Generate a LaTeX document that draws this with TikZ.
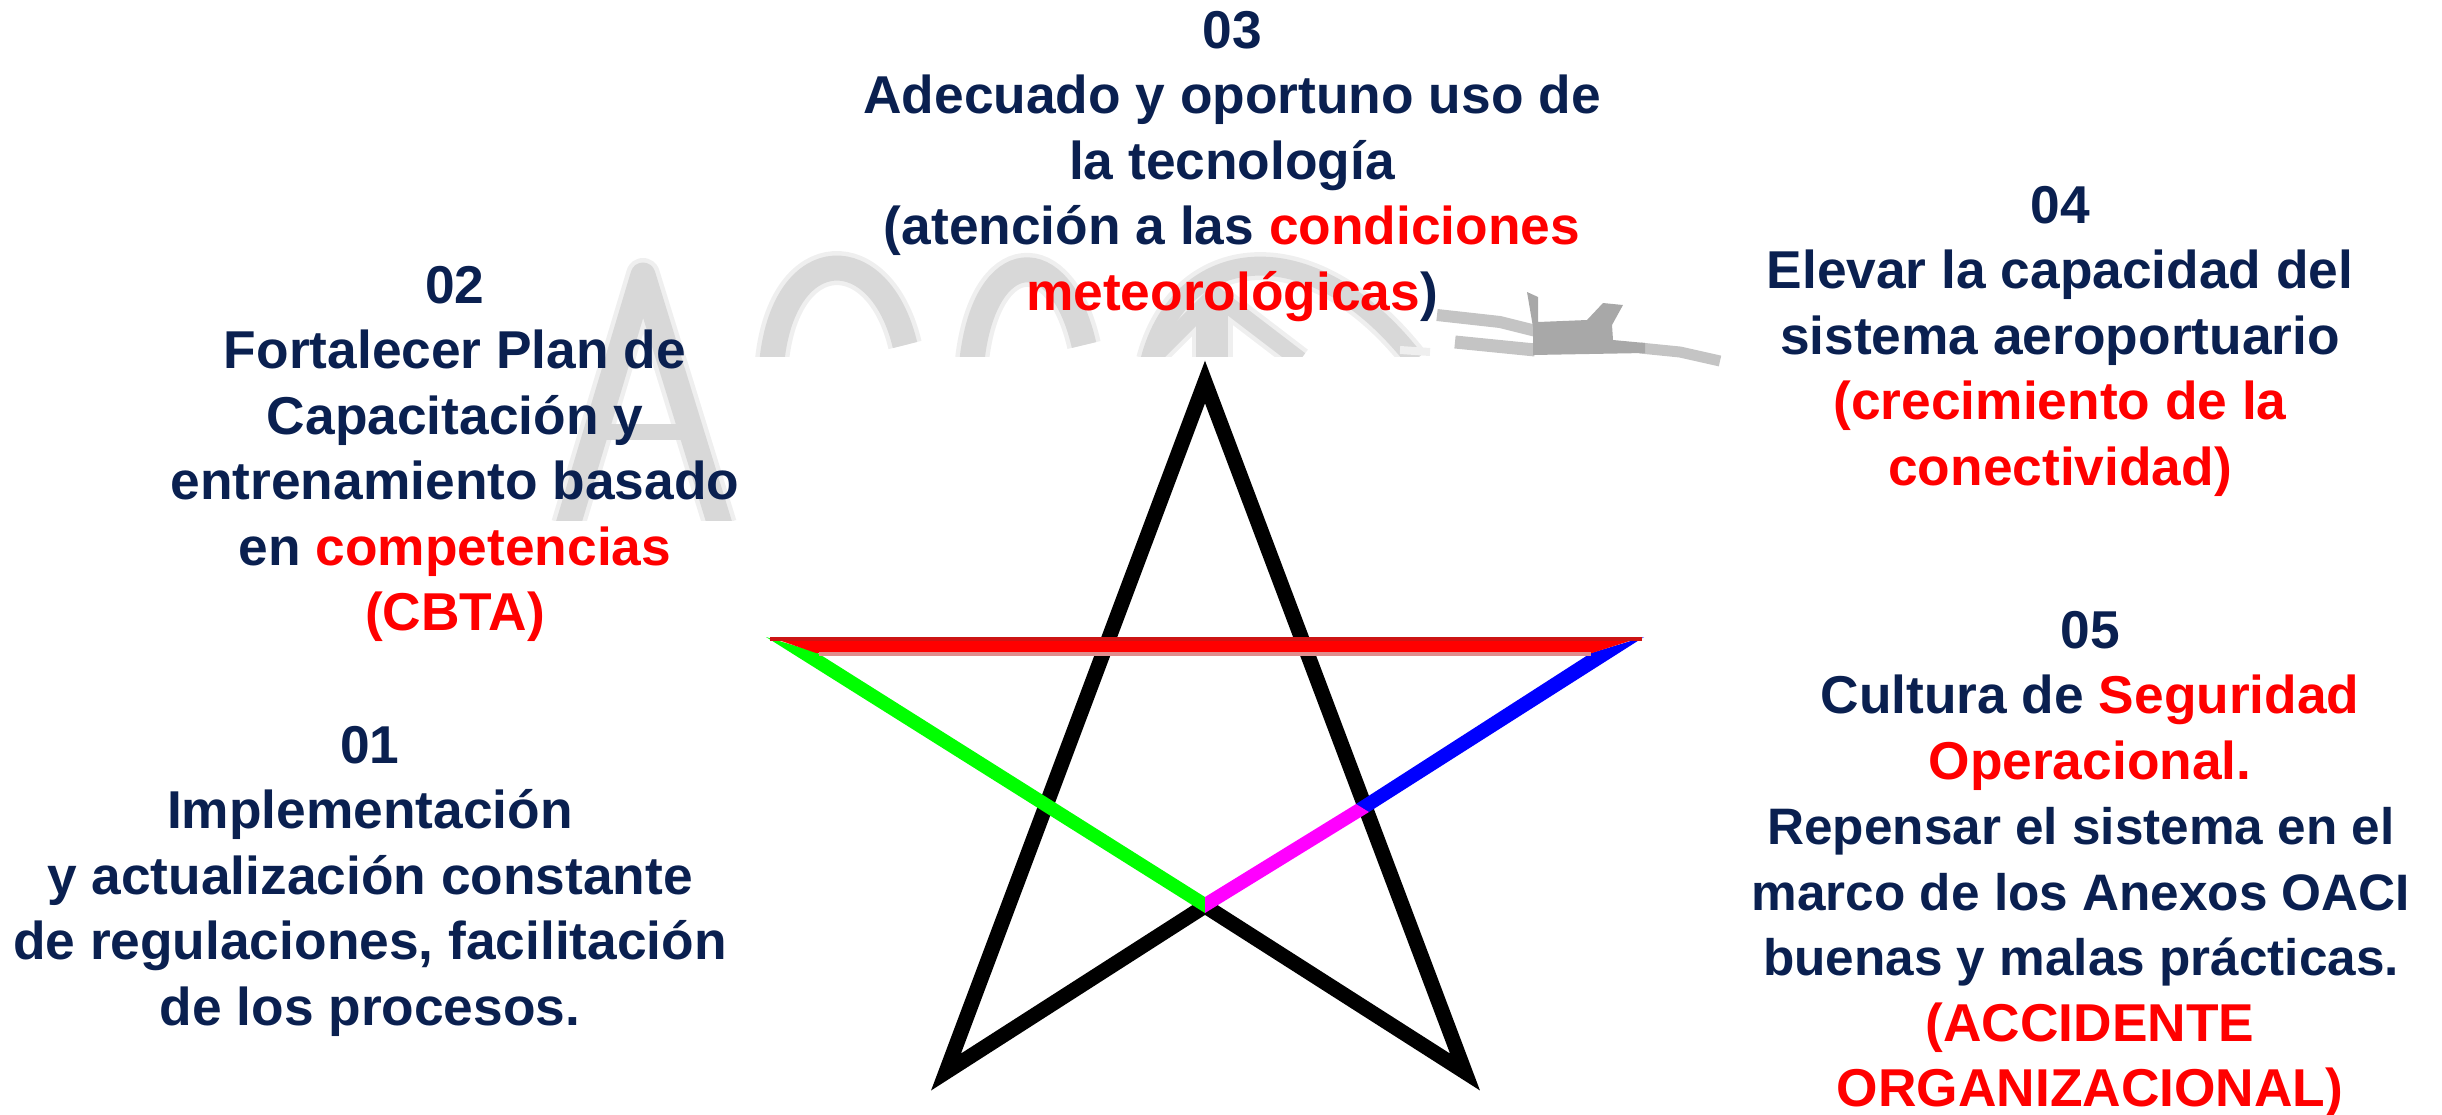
\documentclass[tikz,border=0pt]{standalone}
\usepackage{fontspec}
\setmainfont{Liberation Sans}
\definecolor{navy}{HTML}{0A2050}
\definecolor{wmlight}{HTML}{D8D8D8}
\definecolor{wmhalo}{HTML}{EFEFEF}
\definecolor{wmdark}{HTML}{A8A8A8}
\definecolor{wmmid}{HTML}{C4C4C4}
\definecolor{pure red}{HTML}{FF0000}
\definecolor{pure green}{HTML}{00FF00}
\definecolor{pure blue}{HTML}{0000FF}
\definecolor{pure magenta}{HTML}{FF00FF}
\definecolor{dark strip}{HTML}{CC1414}
\definecolor{pale strip}{HTML}{E08C8C}
\tikzset{
  label/.style={font=\fontsize{53.3}{65.5}\selectfont\bfseries, text=navy, align=center, inner sep=0pt, anchor=north},
  ray/.style={draw=black, line width=15pt, line join=miter, miter limit=40},
  wmh/.style={draw=wmhalo, line width=34pt, line cap=butt, line join=round},
  wm/.style={draw=wmlight, line width=25pt, line cap=butt, line join=round},
}
\newcommand{\hl}[1]{\textcolor{pure red}{#1}}
\newcommand{\tr}{\rule{18pt}{0pt}}
\newcommand{\sml}{\fontsize{51.3}{65.5}\selectfont}
\begin{document}
\begin{tikzpicture}[x=1pt,y=-1pt]
\useasboundingbox (0,0) rectangle (2442,1114);
% watermark
\begin{scope}
\clip (540,240) rectangle (760,520);
\draw[wmh] (568,525) -- (643,275) -- (720,525);
\draw[wm] (568,525) -- (643,275) -- (720,525);
\draw[wmlight,line width=16pt] (600,432) -- (695,432);
\end{scope}
\begin{scope}
\clip (750,240) rectangle (1440,356);
\foreach \s/\w in {wmhalo/9,wmlight/0}{
\draw[\s,line width=25pt+\w pt] (772,360) .. controls (785,240) and (880,240) .. (905,345);
\draw[\s,line width=25pt+\w pt] (972,360) .. controls (985,245) and (1060,240) .. (1084,345);
\draw[\s,line width=19pt+\w pt] (1150,360) .. controls (1180,245) and (1310,225) .. (1415,360);
\draw[\s,line width=17pt+\w pt] (1150,360) -- (1215,295) -- (1300,360);
\draw[\s,line width=32pt+\w pt] (1212,310) -- (1212,360);
}
\end{scope}
% plane
\draw[wmmid,line width=12pt] (1437,315) -- (1500,322) -- (1540,332);
\draw[wmmid,line width=13pt] (1455,342) -- (1535,350);
\draw[wmhalo,line width=8pt] (1400,350) -- (1430,352);
\draw[wmmid,line width=11pt] (1640,348) -- (1680,352) -- (1720,361);
\fill[wmdark] (1527,292) -- (1538,297) -- (1538,322) -- (1587,320) -- (1603,303) -- (1623,305) -- (1612,325) -- (1613,340) -- (1645,343) -- (1645,353) -- (1533,355) -- (1533,327) -- cycle;
% star
\coordinate (T) at (1205,382);
\coordinate (BL) at (946,1072);
\coordinate (BR) at (1465,1072);
\coordinate (C) at (1205,906);
\draw[ray] (BL) -- (T) -- (BR) -- (C) -- cycle;
\fill[pure green] (766,637) -- (816,652) -- (1205,897) -- (1205,913) -- cycle;
\fill[pure blue] (1644,637) -- (1591,653) -- (1356,804) -- (1369,812) -- cycle;
\fill[pure magenta] (1356,804) -- (1205,897) -- (1205,913) -- (1369,812) -- cycle;
\fill[pure red] (770,637) -- (1642,637) -- (1592,653) -- (816,653) -- cycle;
\fill[dark strip] (770,637) rectangle (1642,641);
\fill[pale strip] (819,652) rectangle (1591,656);
% labels
\node[label] (n3) at (1232,11) {03\\Adecuado y oportuno uso de\\la tecnología\\(atención a las \hl{condiciones}\\\hl{meteorológicas})};
\node[label] (n4) at (2060,186) {04\\Elevar la capacidad del\\sistema aeroportuario\\\hl{(crecimiento de la}\\\hl{conectividad)}};
\node[label] (n2) at (455,266) {02\\Fortalecer Plan de\\Capacitación y\\entrenamiento basado\\en \hl{competencias}\\\hl{(CBTA)}};
\node[label] (n1) at (370,726) {01\\Implementación\\y actualización constante\\de regulaciones, facilitación\\de los procesos.};
\node[label] (n5) at (2090,611) {05\\Cultura de \hl{Seguridad}\\\hl{Operacional.}\\{\sml Repensar el sistema en el}\tr\\{\sml marco de los Anexos OACI}\tr\\{\sml buenas y malas prácticas.}\tr\\\hl{(ACCIDENTE}\\\hl{ORGANIZACIONAL)}};
\end{tikzpicture}
\end{document}
